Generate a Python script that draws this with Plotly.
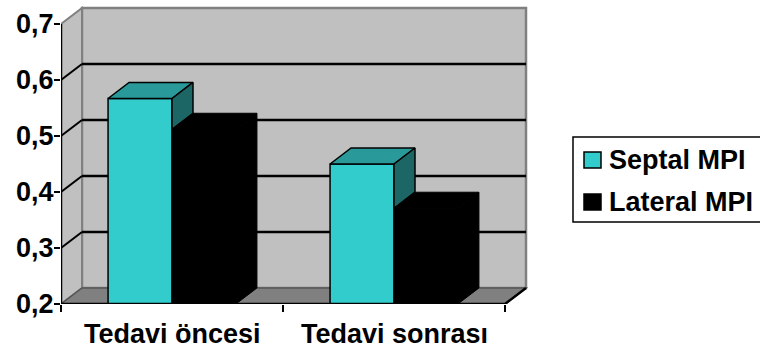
import plotly.graph_objects as go

# ---- data -------------------------------------------------------------
categories = ["Tedavi öncesi", "Tedavi sonrası"]
series_names = ["Septal MPI", "Lateral MPI"]
septal_mpi = [0.567, 0.45]
lateral_mpi = [0.512, 0.371]
y_ticks = [0.2, 0.3, 0.4, 0.5, 0.6, 0.7]

# ---- styling ----------------------------------------------------------
W, H = 760, 349
M_L, M_R, M_T, M_B = 61, 230, 4, 45
FONT = "Liberation Sans, Arial, sans-serif"
FS = 27
CYAN = "#33CCCC"
CYAN_TOP = "#2A9999"
CYAN_SIDE = "#1D6666"
WALL = "#C0C0C0"
WALL_EDGE = "#808080"
FLOOR = "#808080"

y_min, y_max = y_ticks[0], y_ticks[-1]
x_lo, x_hi = -0.5, len(categories) - 0.5
bar_w = 0.288            # width of one column
dx, dy = 0.0946, 0.0286  # depth offset of the 3-D box (x units, y units)

plot_w = W - M_L - M_R
plot_h = H - M_T - M_B
# pixel scale: x axis spans x_lo..x_hi+dx(+pad), y axis y_min..y_max+dy(+pad)
x_range = [x_lo, x_lo + plot_w / 222.0]
y_range = [y_min, y_min + plot_h / 560.0]


def px_x(px):
    return (px - M_L) / plot_w


def px_y(py):
    return (H - M_B - py) / plot_h


fig = go.Figure()
shapes = []


def poly_path(pts):
    return "M " + " L ".join(f"{x},{y}" for x, y in pts) + " Z"


# back wall
shapes.append(dict(type="rect", xref="x", yref="y", layer="below",
                   x0=x_lo + dx, x1=x_hi + dx, y0=y_min + dy, y1=y_max + dy,
                   fillcolor=WALL, line=dict(color=WALL_EDGE, width=2.5)))
# side wall
shapes.append(dict(type="path", xref="x", yref="y", layer="below",
                   path=poly_path([(x_lo, y_min), (x_lo + dx, y_min + dy),
                                   (x_lo + dx, y_max + dy), (x_lo, y_max)]),
                   fillcolor=WALL, line=dict(color=WALL_EDGE, width=2)))
# floor
shapes.append(dict(type="path", xref="x", yref="y", layer="below",
                   path=poly_path([(x_lo, y_min), (x_hi, y_min),
                                   (x_hi + dx, y_min + dy), (x_lo + dx, y_min + dy)]),
                   fillcolor=FLOOR, line=dict(color="#555555", width=1.5)))
# gridlines on back wall and side wall
for v in y_ticks[1:-1]:
    shapes.append(dict(type="line", xref="x", yref="y", layer="below",
                       x0=x_lo + dx, x1=x_hi + dx, y0=v + dy, y1=v + dy,
                       line=dict(color="black", width=2.5)))
    shapes.append(dict(type="line", xref="x", yref="y", layer="below",
                       x0=x_lo, x1=x_lo + dx, y0=v, y1=v + dy,
                       line=dict(color="black", width=2)))

# ---- columns ----------------------------------------------------------
cat_x = list(range(len(categories)))
sep_x = [c - bar_w / 2 for c in cat_x]
lat_x = [c + bar_w / 2 for c in cat_x]

fig.add_trace(go.Bar(x=sep_x, y=[v - y_min for v in septal_mpi], base=y_min,
                     width=bar_w, marker=dict(color=CYAN, line=dict(color="black", width=1.5)),
                     name=series_names[0], hoverinfo="skip", showlegend=False))
fig.add_trace(go.Bar(x=lat_x, y=[v - y_min for v in lateral_mpi], base=y_min,
                     width=bar_w, marker=dict(color="black", line=dict(color="black", width=1)),
                     name=series_names[1], hoverinfo="skip", showlegend=False))


def face(pts, fill, lw=1.5):
    xs = [p[0] for p in pts] + [pts[0][0]]
    ys = [p[1] for p in pts] + [pts[0][1]]
    fig.add_trace(go.Scatter(x=xs, y=ys, mode="lines", fill="toself",
                             fillcolor=fill, line=dict(color="black", width=lw),
                             hoverinfo="skip", showlegend=False))


for i, c in enumerate(cat_x):
    s, l = septal_mpi[i], lateral_mpi[i]
    sl, sr = c - bar_w, c
    ll, lr = c, c + bar_w
    # septal top face
    face([(sl, s), (sr, s), (sr + dx, s + dy), (sl + dx, s + dy)], CYAN_TOP)
    # septal side face, the part not hidden behind the lateral column
    lo = min(s, l)
    face([(sr, s), (sr + dx, s + dy), (sr + dx, lo + dy), (sr, lo)], CYAN_SIDE)
    # lateral top and side faces
    face([(ll, l), (lr, l), (lr + dx, l + dy), (ll + dx, l + dy)], "black", 1)
    face([(lr, l), (lr + dx, l + dy), (lr + dx, y_min + dy), (lr, y_min)], "black", 1)

# front axis lines
fig.add_trace(go.Scatter(x=[x_lo, x_lo], y=[y_min, y_max], mode="lines",
                         line=dict(color="black", width=2.5), cliponaxis=False,
                         hoverinfo="skip", showlegend=False))
fig.add_trace(go.Scatter(x=[x_lo, x_hi, x_hi + dx], y=[y_min, y_min, y_min + dy], mode="lines",
                         line=dict(color="black", width=2.5), cliponaxis=False,
                         hoverinfo="skip", showlegend=False))

# ---- category labels ----------------------------------------------------
annotations = []
for c, name in zip(cat_x, categories):
    annotations.append(dict(x=c, xref="x", y=px_y(334), yref="paper", text=name,
                            showarrow=False, xanchor="center", yanchor="middle",
                            font=dict(family=FONT, size=FS, color="black", weight="bold")))

# ---- legend -------------------------------------------------------------
shapes.append(dict(type="rect", xref="paper", yref="paper",
                   x0=px_x(573), x1=px_x(790), y0=px_y(222), y1=px_y(137),
                   fillcolor="white", line=dict(color="black", width=1.5)))
legend_colors = [CYAN, "black"]
legend_rows = [160, 202]
for name, col, ry in zip(series_names, legend_colors, legend_rows):
    shapes.append(dict(type="rect", xref="paper", yref="paper",
                       x0=px_x(584), x1=px_x(601), y0=px_y(ry + 8), y1=px_y(ry - 8),
                       fillcolor=col, line=dict(color="black", width=1.5)))
    annotations.append(dict(x=px_x(607), xref="paper", y=px_y(ry), yref="paper",
                            text=name, showarrow=False, xanchor="left", yanchor="middle",
                            font=dict(family=FONT, size=FS, color="black", weight="bold")))

fig.update_layout(
    width=W, height=H,
    margin=dict(l=M_L, r=M_R, t=M_T, b=M_B),
    paper_bgcolor="white", plot_bgcolor="white",
    separators=",.",
    barmode="overlay",
    showlegend=False,
    shapes=shapes,
    annotations=annotations,
    xaxis=dict(range=x_range, showgrid=False, zeroline=False, showline=False,
               tickmode="array", tickvals=[x_lo + k for k in range(len(categories) + 1)],
               ticktext=[""] * (len(categories) + 1),
               ticks="outside", ticklen=7, tickwidth=2, tickcolor="black", fixedrange=True),
    yaxis=dict(range=y_range, showgrid=False, zeroline=False, showline=False,
               tickmode="array", tickvals=y_ticks, tickformat=".1f",
               ticks="outside", ticklen=6, tickwidth=2, tickcolor="black",
               ticklabelstandoff=-5,
               tickfont=dict(family=FONT, size=FS, color="black", weight="bold"),
               fixedrange=True),
)

fig.write_html("out.html")
